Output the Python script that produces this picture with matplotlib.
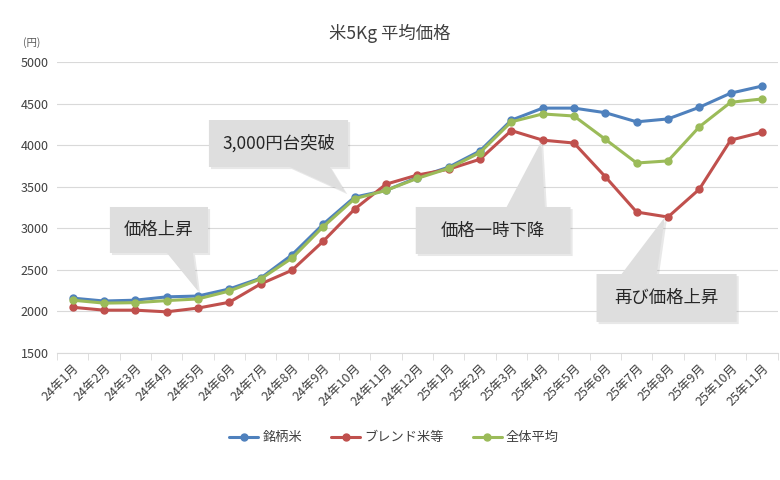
import matplotlib
matplotlib.use('Agg')
import matplotlib.pyplot as plt
from matplotlib.patches import Polygon
import matplotlib.patheffects as pe

plt.rcParams['font.family'] = ['Noto Sans CJK JP', 'DejaVu Sans']

months = ['24年1月', '24年2月', '24年3月', '24年4月', '24年5月', '24年6月',
          '24年7月', '24年8月', '24年9月', '24年10月', '24年11月', '24年12月',
          '25年1月', '25年2月', '25年3月', '25年4月', '25年5月', '25年6月',
          '25年7月', '25年8月', '25年9月', '25年10月', '25年11月']
brand = [2160, 2125, 2135, 2175, 2185, 2270, 2400, 2680, 3050, 3375, 3455, 3610,
         3735, 3930, 4300, 4445, 4445, 4390, 4280, 4315, 4455, 4625, 4710]
blend = [2050, 2015, 2015, 1995, 2040, 2110, 2330, 2495, 2845, 3230, 3530, 3640,
         3710, 3830, 4175, 4060, 4025, 3620, 3195, 3135, 3470, 4060, 4155]
average = [2135, 2100, 2105, 2130, 2150, 2245, 2390, 2640, 3020, 3355, 3455, 3600,
           3720, 3910, 4280, 4375, 4350, 4070, 3785, 3810, 4220, 4515, 4555]
series_names = ['銘柄米', 'ブレンド米等', '全体平均']
colors = ['#4f81bd', '#c0504d', '#9bbb59']

fig = plt.figure(figsize=(7.8, 4.8), dpi=100)
ax = fig.add_axes([0.073, 0.2646, 0.924, 0.6063])

x = list(range(len(months)))
for vals, name, c in zip([brand, blend, average], series_names, colors):
    ax.plot(x, vals, color=c, lw=2.2, marker='o', markersize=5, label=name,
            solid_capstyle='round')

ax.set_xlim(-0.5, len(months) - 0.5)
ax.set_ylim(1500, 5000)
ax.set_yticks(range(1500, 5001, 500))
ax.grid(axis='y', color='#d9d9d9', lw=0.8)
ax.set_axisbelow(True)
for s in ['top', 'right', 'left']:
    ax.spines[s].set_visible(False)
ax.spines['bottom'].set_color('#d9d9d9')
ax.tick_params(axis='y', length=0, labelsize=9, colors='#404040', pad=6)
ax.set_xticks(x)
ax.set_xticklabels(months, rotation=45, ha='right', rotation_mode='anchor',
                   fontsize=9, color='#404040')
ax.set_xticks([i - 0.5 for i in range(len(months) + 1)], minor=True)
ax.tick_params(axis='x', which='major', length=0, pad=6)
ax.tick_params(axis='x', which='minor', length=5, color='#d9d9d9')

fig.text(0.5, 0.93, '米5Kg 平均価格', ha='center', va='center', fontsize=12.5,
         color='#404040')
fig.text(0.041, 0.912, '(円)', ha='center', va='center', fontsize=7.5,
         color='#595959')

# callouts: box (x0, x1, y0, y1), wedge base (xa, xb) on edge, tip point
callouts = [
    ('価格上昇', (1.19, 4.32, 2703, 3256), (3.01, 3.84), 'bottom', (4.0, brand[4] + 60)),
    ('3,000円台突破', (4.35, 8.79, 3737, 4302), (6.93, 8.21), 'bottom', (8.7, brand[9] + 60)),
    ('価格一時下降', (10.95, 15.89, 2691, 3256), (13.85, 15.07), 'top', (14.95, blend[15] - 20)),
    ('再び価格上昇', (16.72, 21.19, 1873, 2450), (17.52, 18.64), 'top', (18.9, blend[19])),
]
for text, (x0, x1, y0, y1), (xa, xb), edge, tip in callouts:
    if edge == 'bottom':
        verts = [(x0, y1), (x1, y1), (x1, y0), (xb, y0), tip, (xa, y0), (x0, y0)]
    else:
        verts = [(x0, y1), (x1, y1), (x1, y0), (x0, y0), (x0, y1), (xa, y1), tip, (xb, y1)]
    poly = Polygon(verts, closed=True, facecolor='#dedede', edgecolor='none',
                   zorder=5, clip_on=False)
    poly.set_path_effects([pe.SimplePatchShadow(offset=(1.5, -1.5), alpha=0.12),
                           pe.Normal()])
    ax.add_patch(poly)
    ax.text((x0 + x1) / 2, (y0 + y1) / 2, text, ha='center', va='center',
            fontsize=12.5, color='#262626', zorder=6)

leg = fig.legend(loc='center', bbox_to_anchor=(0.505, 0.088), ncol=3, frameon=False,
                 fontsize=9.5, handlelength=2.2, columnspacing=2.2, handletextpad=0.3)
for t in leg.get_texts():
    t.set_color('#404040')

fig.savefig('out.png', dpi=100)
